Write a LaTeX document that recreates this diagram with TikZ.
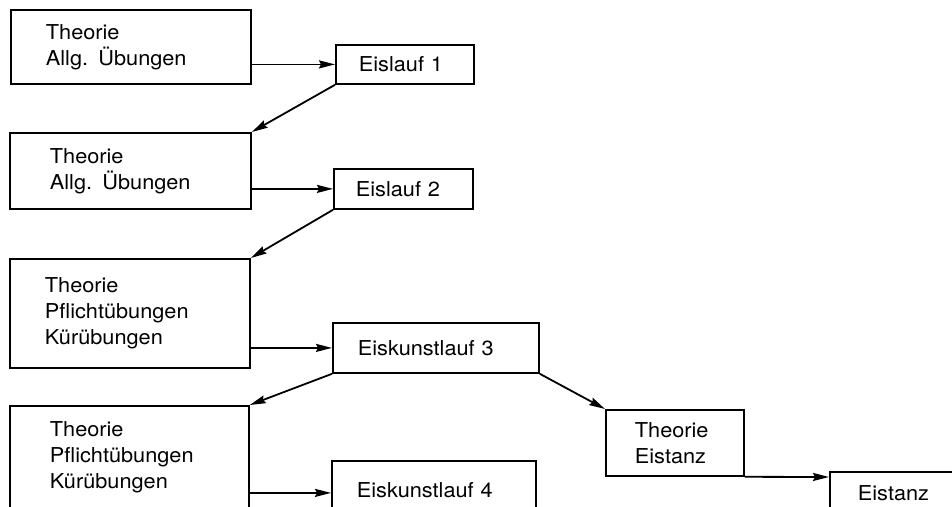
\documentclass[tikz,border=0pt]{standalone}
\usepackage{fontspec}
\setmainfont{TeX Gyre Heros}[FakeStretch=1.06]
\usetikzlibrary{arrows.meta,positioning}

\tikzset{
  stepbox/.style={draw, rectangle, line width=1.8pt, anchor=north west, align=left,
    inner ysep=0pt, font=\fontsize{20.5}{26}\selectfont},
  flow/.style={line width=1.8pt, -{Stealth[length=16pt,width=8pt,inset=2pt]}}
}

\begin{document}
\begin{tikzpicture}[x=1pt,y=-1pt]
\useasboundingbox (0,0) rectangle (952,506);
% left column
\node[stepbox, text width=170pt, inner xsep=35pt, minimum height=74pt] (th1) at (10,9) {Theorie\\Allg. Übungen};
\node[stepbox, text width=161pt, inner xsep=40pt, minimum height=76pt] (th2) at (9,132) {Theorie\\Allg. Übungen};
\node[stepbox, text width=170pt, inner xsep=35pt, minimum height=109pt] (th3) at (9,258) {Theorie\\Pflichtübungen\\Kürübungen};
\node[stepbox, text width=159pt, inner xsep=40pt, minimum height=103pt] (th4) at (9,405) {Theorie\\Pflichtübungen\\Kürübungen};
% ice column
\node[stepbox, text width=92pt, inner xsep=23pt, minimum height=39pt] (ei1) at (335,44) {Eislauf 1};
\node[stepbox, text width=95pt, inner xsep=22pt, minimum height=40pt] (ei2) at (333,168) {Eislauf 2};
\node[stepbox, text width=156pt, inner xsep=25pt, minimum height=50pt] (ek3) at (332,322) {Eiskunstlauf 3};
\node[stepbox, text width=154pt, inner xsep=25pt, minimum height=58pt] (ek4) at (331,460) {Eiskunstlauf 4};
% dance branch
\node[stepbox, text width=80pt, inner xsep=29pt, minimum height=66pt] (tz) at (605,409) {Theorie\\Eistanz};
\node[stepbox, text width=84pt, inner xsep=28pt, minimum height=42pt] (ez) at (829,471) {Eistanz};
% connectors
\draw[flow] (th1.east |- ei1.west) -- (ei1.west);
\draw[flow] (ei1.south west) -- (th2.north east);
\draw[flow] (th2.east |- ei2.west) -- (ei2.west);
\draw[flow] (ei2.south west) -- (th3.north east);
\draw[flow] (th3.east |- ek3.west) -- (ek3.west);
\draw[flow] (ek3.south west) -- (th4.north east);
\draw[flow] ([yshift=-3pt]th4.east |- ek4.west) -- ([yshift=-3pt]ek4.west);
\draw[flow] (ek3.south east) -- (tz.north west);
\draw[flow] (tz.south east) -- ([yshift=-6pt]ez.north west);
\end{tikzpicture}
\end{document}
